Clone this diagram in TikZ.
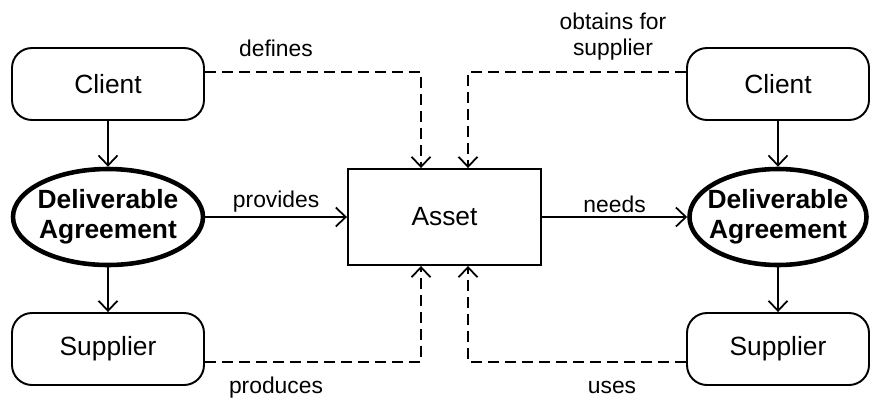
\documentclass[tikz,border=0pt]{standalone}
\usepackage{fontspec}
\setmainfont{Liberation Sans}
\usetikzlibrary{arrows.meta,positioning,shapes.geometric,calc}

\begin{document}
\begin{tikzpicture}[
  font=\fontsize{15}{17}\selectfont,
  party/.style={draw, line width=1.1pt, rounded corners=0.4cm,
    minimum width=3.84cm, minimum height=1.44cm},
  agree/.style={draw, ellipse, line width=2.6pt, align=center,
    inner xsep=-5pt, inner ysep=0pt, minimum width=3.8cm, minimum height=1.92cm,
    font=\fontsize{15}{17}\selectfont\bfseries},
  thing/.style={draw, line width=1.1pt, minimum width=3.86cm, minimum height=1.92cm},
  flow/.style={-{Straight Barb[length=2mm,width=3.8mm]}, line width=1pt},
  dep/.style={flow, dash pattern=on 0.22cm off 0.12cm},
  lbl/.style={font=\fontsize{13}{14.7}\selectfont, inner sep=1pt, align=center},
]
  \useasboundingbox (0,0) rectangle (17.4,8.04);

  % producing side
  \node[party] (lclient) at (2.16,6.36) {Client};
  \node[agree] (lagree) at (2.16,3.70) {Deliverable\\Agreement};
  \node[party] (lsupp) at (2.16,1.06) {Supplier};

  \node[thing] (asset) at (8.89,3.70) {Asset};

  % consuming side
  \node[party, minimum width=3.64cm] (rclient) at (15.56,6.36) {Client};
  \node[agree, minimum width=3.54cm] (ragree) at (15.56,3.70) {Deliverable\\Agreement};
  \node[party, minimum width=3.64cm] (rsupp) at (15.56,1.06) {Supplier};

  \draw[flow] (lclient) -- (lagree);
  \draw[flow] (lagree) -- (lsupp);
  \draw[flow] (rclient) -- (ragree);
  \draw[flow] (ragree) -- (rsupp);

  \draw[flow] (lagree) -- (asset)
    node[lbl, above=1pt, midway]{provides};
  \draw[flow] (asset) -- (ragree)
    node[lbl, above=1pt, midway]{needs};

  \draw[dep] ([yshift=0.24cm]lclient.east) -| ([xshift=-0.47cm]asset.north);
  \draw[dep] ([yshift=0.24cm]rclient.west) -| ([xshift=0.47cm]asset.north);
  \draw[dep] ([yshift=-0.26cm]lsupp.east) -| ([xshift=-0.47cm]asset.south);
  \draw[dep] ([yshift=-0.26cm]rsupp.west) -| ([xshift=0.47cm]asset.south);

  \node[lbl, anchor=base] (defines) at (5.52,6.92) {defines};
  \node[lbl] (obtains) at (12.26,7.30) {obtains for\\supplier};
  \node[lbl, anchor=base] (produces) at (5.52,0.18) {produces};
  \node[lbl, anchor=base] (uses) at (12.24,0.18) {uses};
\end{tikzpicture}
\end{document}
